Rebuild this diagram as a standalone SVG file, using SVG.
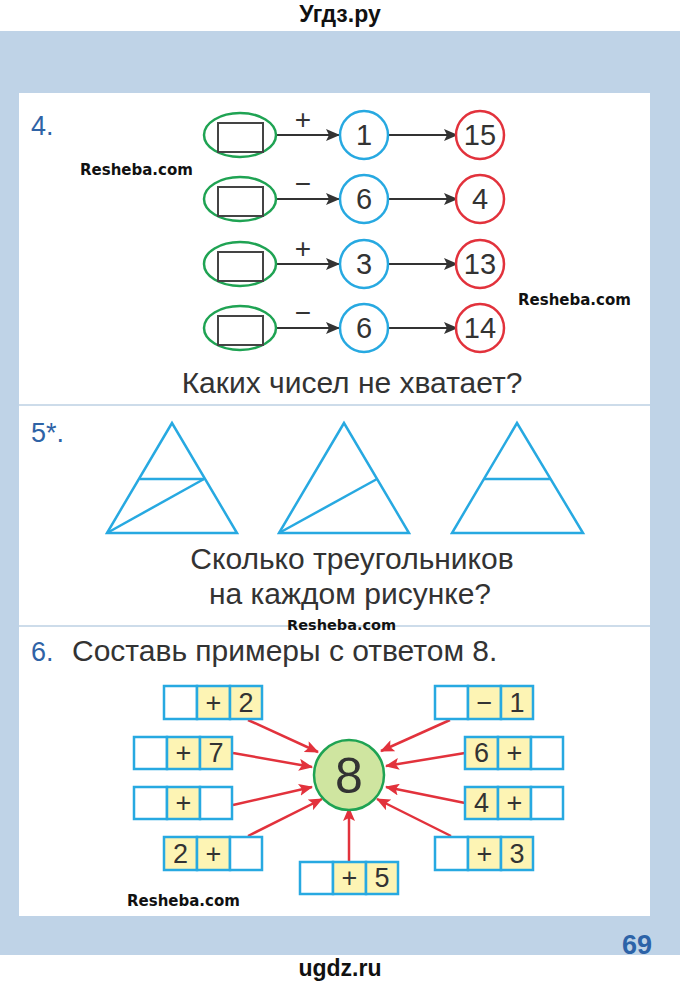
<svg xmlns="http://www.w3.org/2000/svg" width="680" height="986" viewBox="0 0 680 986">
<defs>
<style>
.t{font-family:"Liberation Sans",Arial,sans-serif;fill:#333}
.s{font-family:"Liberation Sans",Arial,sans-serif;fill:#333;font-size:30px}
.num{font-family:"Liberation Sans",Arial,sans-serif;fill:#333;font-size:29px;text-anchor:middle}
.lbl{font-family:"Liberation Sans",Arial,sans-serif;fill:#2f63a6;font-size:27px}
.wm{font-family:"DejaVu Sans",Verdana,sans-serif;font-weight:bold;fill:#111;font-size:15px}
.gE{fill:#fff;stroke:#1fa353;stroke-width:2.5}
.bC{fill:#fff;stroke:#27a9e1;stroke-width:2.5}
.rC{fill:#fff;stroke:#e2323c;stroke-width:2.5}
.sq{fill:#fff;stroke:#444;stroke-width:2}
.ba{stroke:#333;stroke-width:2;fill:none;marker-end:url(#ah)}
.ra{stroke:#e2323c;stroke-width:2.5;fill:none;marker-end:url(#rh)}
.tri{fill:none;stroke:#27a9e1;stroke-width:2.5;stroke-linejoin:miter}
.cw{fill:#fff;stroke:#27a9e1;stroke-width:2.5}
.cy{fill:#fdf4b4;stroke:#27a9e1;stroke-width:2.5}
.ct{font-family:"Liberation Sans",Arial,sans-serif;fill:#333;font-size:27px;text-anchor:middle}
.op{font-family:"Liberation Sans",Arial,sans-serif;fill:#333;font-size:28px;text-anchor:middle}
</style>
<marker id="ah" markerUnits="userSpaceOnUse" markerWidth="14" markerHeight="12" refX="13" refY="6" orient="auto"><path d="M0,0 L14,6 L0,12 L3,6 Z" fill="#333"/></marker>
<marker id="rh" markerUnits="userSpaceOnUse" markerWidth="14" markerHeight="12" refX="13" refY="6" orient="auto"><path d="M0,0 L14,6 L0,12 L3,6 Z" fill="#e2323c"/></marker>
</defs>
<rect x="0" y="0" width="680" height="986" fill="#fff"/>
<rect x="0" y="31" width="680" height="924" fill="#bfd3e7"/>
<rect x="19" y="93" width="631" height="823" fill="#fff"/>
<line x1="19" y1="405" x2="650" y2="405" stroke="#cddcea" stroke-width="2"/>
<line x1="19" y1="626" x2="650" y2="626" stroke="#cddcea" stroke-width="2"/>
<text x="340" y="22" class="t" style="font-weight:bold;font-size:23px;fill:#111" text-anchor="middle">Угдз.ру</text>
<text x="340" y="976" class="t" style="font-weight:bold;font-size:23px;fill:#111" text-anchor="middle">ugdz.ru</text>
<text x="652" y="954" class="t" style="font-weight:bold;font-size:27px;fill:#2d63a8" text-anchor="end">69</text>

<!-- Section 4 -->
<text x="31" y="135" class="lbl">4.</text>
<text x="80" y="175" class="wm">Resheba.com</text>
<text x="518" y="305" class="wm">Resheba.com</text>
<g id="connectors4">
<line x1="277" y1="135" x2="339" y2="135" class="ba"/>
<line x1="389" y1="135" x2="457" y2="135" class="ba"/>
<line x1="277" y1="199" x2="339" y2="199" class="ba"/>
<line x1="389" y1="199" x2="457" y2="199" class="ba"/>
<line x1="277" y1="264" x2="339" y2="264" class="ba"/>
<line x1="389" y1="264" x2="457" y2="264" class="ba"/>
<line x1="277" y1="328" x2="339" y2="328" class="ba"/>
<line x1="389" y1="328" x2="457" y2="328" class="ba"/>
<text x="303" y="129" class="op">+</text>
<text x="303" y="193" class="op">−</text>
<text x="303" y="258" class="op">+</text>
<text x="303" y="322" class="op">−</text>
</g>
<g id="r1">
<ellipse cx="240" cy="135" rx="36" ry="22" class="gE"/><rect x="218" y="123" width="45" height="29" class="sq"/>
<circle cx="364" cy="135" r="24" class="bC"/><text x="364" y="145" class="num">1</text>
<circle cx="480" cy="135" r="24" class="rC"/><text x="480" y="145" class="num">15</text>
</g>
<g id="r2">
<ellipse cx="240" cy="199" rx="36" ry="22" class="gE"/><rect x="218" y="187" width="45" height="29" class="sq"/>
<circle cx="364" cy="199" r="24" class="bC"/><text x="364" y="209" class="num">6</text>
<circle cx="480" cy="199" r="24" class="rC"/><text x="480" y="209" class="num">4</text>
</g>
<g id="r3">
<ellipse cx="240" cy="264" rx="36" ry="22" class="gE"/><rect x="218" y="252" width="45" height="29" class="sq"/>
<circle cx="364" cy="264" r="24" class="bC"/><text x="364" y="274" class="num">3</text>
<circle cx="480" cy="264" r="24" class="rC"/><text x="480" y="274" class="num">13</text>
</g>
<g id="r4">
<ellipse cx="240" cy="328" rx="36" ry="22" class="gE"/><rect x="218" y="316" width="45" height="29" class="sq"/>
<circle cx="364" cy="328" r="24" class="bC"/><text x="364" y="338" class="num">6</text>
<circle cx="480" cy="328" r="24" class="rC"/><text x="480" y="338" class="num">14</text>
</g>
<text x="352" y="393" class="s" text-anchor="middle">Каких чисел не хватает?</text>

<!-- Section 5 -->
<text x="31" y="442" class="lbl">5*.</text>
<g id="tri1">
<polygon points="172,423 107,533 237,533" class="tri"/>
<line x1="140" y1="479" x2="204" y2="479" class="tri"/>
<line x1="107" y1="533" x2="204" y2="479" class="tri"/>
</g>
<g id="tri2">
<polygon points="344,423 279,533 409,533" class="tri"/>
<line x1="279" y1="533" x2="377" y2="479" class="tri"/>
</g>
<g id="tri3">
<polygon points="517,423 452,533 583,533" class="tri"/>
<line x1="484" y1="479" x2="550" y2="479" class="tri"/>
</g>
<text x="352" y="569" class="s" text-anchor="middle">Сколько треугольников</text>
<text x="350" y="604" class="s" text-anchor="middle">на каждом рисунке?</text>
<text x="287" y="630" class="wm" style="font-size:14.5px">Resheba.com</text>

<!-- Section 6 -->
<text x="31" y="661" class="lbl">6.</text>
<text x="72" y="661" class="s">Составь примеры с ответом 8.</text>
<text x="127" y="906" class="wm">Resheba.com</text>

<g id="connectors6">
<line x1="248" y1="720" x2="318" y2="752" class="ra"/>
<line x1="233" y1="753" x2="312" y2="767" class="ra"/>
<line x1="233" y1="805" x2="312" y2="787" class="ra"/>
<line x1="248" y1="836" x2="322" y2="799" class="ra"/>
<line x1="349" y1="862" x2="349" y2="808" class="ra"/>
<line x1="451" y1="836" x2="377" y2="799" class="ra"/>
<line x1="465" y1="803" x2="386" y2="787" class="ra"/>
<line x1="465" y1="753" x2="386" y2="766" class="ra"/>
<line x1="450" y1="720" x2="381" y2="751" class="ra"/>
</g>
<g id="center8">
<circle cx="349" cy="775" r="35" fill="#cfe5a0" stroke="#1fa353" stroke-width="2.5"/>
<text x="349" y="793" class="t" style="font-size:50px" text-anchor="middle">8</text>
</g>
<g id="b1">
<rect x="164" y="686" width="33" height="33" class="cw"/><rect x="197" y="686" width="33" height="33" class="cy"/><rect x="230" y="686" width="32" height="33" class="cy"/>
<text x="213.5" y="712" class="ct">+</text><text x="246" y="712" class="ct">2</text>
</g>
<g id="b2">
<rect x="134" y="737" width="33" height="32" class="cw"/><rect x="167" y="737" width="33" height="32" class="cy"/><rect x="200" y="737" width="32" height="32" class="cy"/>
<text x="183.5" y="762" class="ct">+</text><text x="216" y="762" class="ct">7</text>
</g>
<g id="b3">
<rect x="134" y="787" width="33" height="32" class="cw"/><rect x="167" y="787" width="33" height="32" class="cy"/><rect x="200" y="787" width="32" height="32" class="cw"/>
<text x="183.5" y="812" class="ct">+</text>
</g>
<g id="b4">
<rect x="164" y="837" width="33" height="33" class="cy"/><rect x="197" y="837" width="33" height="33" class="cy"/><rect x="230" y="837" width="32" height="33" class="cw"/>
<text x="180.5" y="863" class="ct">2</text><text x="213.5" y="863" class="ct">+</text>
</g>
<g id="b5">
<rect x="300" y="862" width="33" height="32" class="cw"/><rect x="333" y="862" width="33" height="32" class="cy"/><rect x="366" y="862" width="32" height="32" class="cy"/>
<text x="349.5" y="887" class="ct">+</text><text x="382" y="887" class="ct">5</text>
</g>
<g id="b6">
<rect x="435" y="837" width="33" height="33" class="cw"/><rect x="468" y="837" width="33" height="33" class="cy"/><rect x="501" y="837" width="32" height="33" class="cy"/>
<text x="484.5" y="863" class="ct">+</text><text x="517" y="863" class="ct">3</text>
</g>
<g id="b7">
<rect x="465" y="787" width="33" height="32" class="cy"/><rect x="498" y="787" width="33" height="32" class="cy"/><rect x="531" y="787" width="32" height="32" class="cw"/>
<text x="481.5" y="812" class="ct">4</text><text x="514.5" y="812" class="ct">+</text>
</g>
<g id="b8">
<rect x="465" y="737" width="33" height="32" class="cy"/><rect x="498" y="737" width="33" height="32" class="cy"/><rect x="531" y="737" width="32" height="32" class="cw"/>
<text x="481.5" y="762" class="ct">6</text><text x="514.5" y="762" class="ct">+</text>
</g>
<g id="b9">
<rect x="435" y="686" width="33" height="33" class="cw"/><rect x="468" y="686" width="33" height="33" class="cy"/><rect x="501" y="686" width="32" height="33" class="cy"/>
<text x="484.5" y="712" class="ct">−</text><text x="517" y="712" class="ct">1</text>
</g>
</svg>
